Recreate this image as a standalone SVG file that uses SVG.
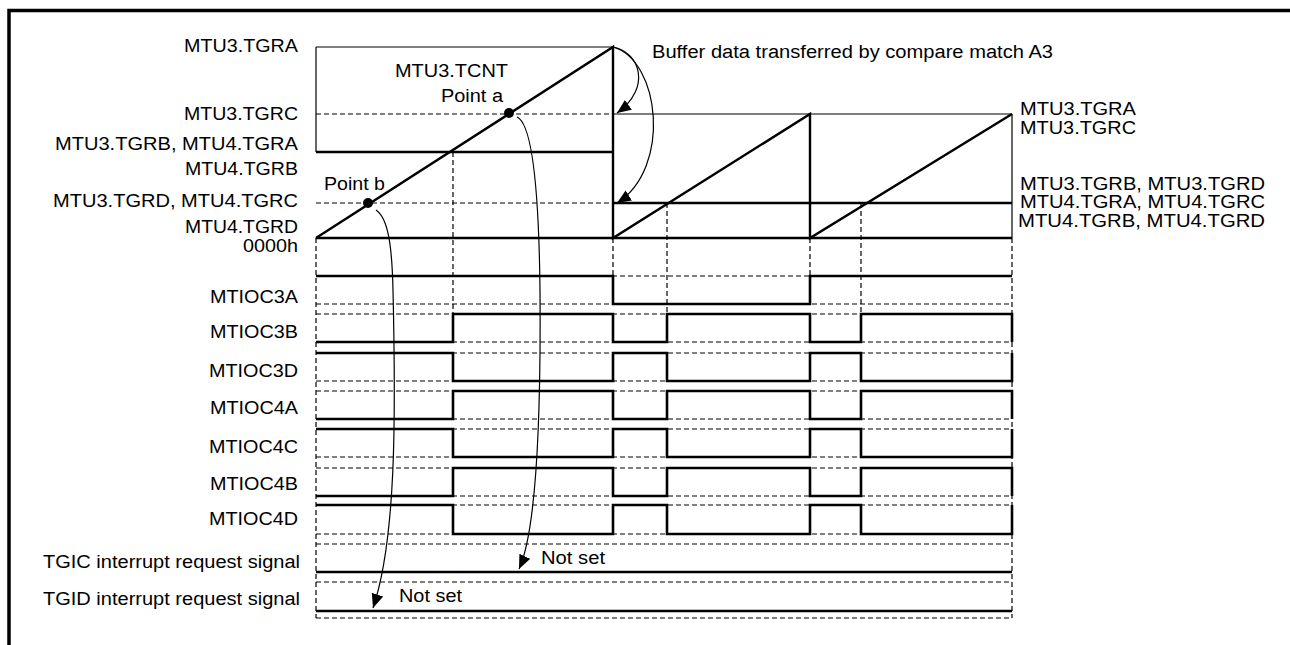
<svg xmlns="http://www.w3.org/2000/svg" width="1290" height="645" viewBox="0 0 1290 645">
<style>
text{font-family:"Liberation Sans",Arial,sans-serif;font-size:18px;fill:#000}
.e{text-anchor:end}
.thin{stroke:#000;stroke-width:1.2;fill:none}
.thick{stroke:#000;stroke-width:2.4;fill:none}
.dash{stroke:#000;stroke-width:1.2;fill:none;stroke-dasharray:5 3}
.wave{stroke:#000;stroke-width:2.6;fill:none;stroke-linejoin:miter}
.conn{stroke:#000;stroke-width:1.2;fill:none}
</style>
<defs>
<marker id="ah" markerUnits="userSpaceOnUse" markerWidth="15" markerHeight="13" refX="14" refY="6" orient="auto" viewBox="0 0 15 13">
<path d="M0,0 L14,6 L0,12 z" fill="#000"/>
</marker>
</defs>
<rect width="1290" height="645" fill="#fff"/>
<g id="frame">
<path d="M9,645 V10.5 H1290" stroke="#000" stroke-width="3.5" fill="none"/>
</g>
<g id="counter-plot">
<line class="thin" x1="316" y1="47" x2="613" y2="47"/>
<line class="thin" x1="316" y1="47" x2="316" y2="152"/>
<line class="dash" x1="316" y1="114" x2="613" y2="114"/>
<line class="thin" x1="613" y1="114" x2="1012" y2="114"/>
<line class="thick" x1="316" y1="152" x2="613" y2="152"/>
<line class="dash" x1="316" y1="203" x2="613" y2="203"/>
<line class="thick" x1="613" y1="203" x2="1012" y2="203"/>
<line class="thick" x1="316" y1="238" x2="1012" y2="238"/>
<path class="thick" d="M316,238 L613,47 V238 L810,114 V238 L1012,114"/>
<line class="thin" x1="1012" y1="114" x2="1012" y2="238"/>
<circle cx="509" cy="113" r="5" fill="#000"/>
<circle cx="368" cy="203" r="5" fill="#000"/>
<text x="395" y="77" textLength="113" lengthAdjust="spacingAndGlyphs">MTU3.TCNT</text>
<text x="441" y="102" textLength="62" lengthAdjust="spacingAndGlyphs">Point a</text>
<text x="324" y="190" textLength="61" lengthAdjust="spacingAndGlyphs">Point b</text>
</g>
<g id="gridlines">
<line class="dash" x1="316" y1="238" x2="316" y2="618"/>
<line class="dash" x1="1012" y1="238" x2="1012" y2="618"/>
<line class="dash" x1="453" y1="152" x2="453" y2="314"/>
<line class="dash" x1="613" y1="238" x2="613" y2="276"/>
<line class="dash" x1="667" y1="203" x2="667" y2="314"/>
<line class="dash" x1="810" y1="238" x2="810" y2="276"/>
<line class="dash" x1="861" y1="203" x2="861" y2="314"/>
</g>
<g id="left-labels">
<text class="e" x="298" y="52" textLength="114" lengthAdjust="spacingAndGlyphs">MTU3.TGRA</text>
<text class="e" x="298" y="120" textLength="114" lengthAdjust="spacingAndGlyphs">MTU3.TGRC</text>
<text class="e" x="298" y="150" textLength="243" lengthAdjust="spacingAndGlyphs">MTU3.TGRB, MTU4.TGRA</text>
<text class="e" x="298" y="175" textLength="113" lengthAdjust="spacingAndGlyphs">MTU4.TGRB</text>
<text class="e" x="298" y="207" textLength="245" lengthAdjust="spacingAndGlyphs">MTU3.TGRD, MTU4.TGRC</text>
<text class="e" x="298" y="233" textLength="113" lengthAdjust="spacingAndGlyphs">MTU4.TGRD</text>
<text class="e" x="298" y="252" textLength="55" lengthAdjust="spacingAndGlyphs">0000h</text>
</g>
<g id="right-labels">
<text x="1020" y="115" textLength="116" lengthAdjust="spacingAndGlyphs">MTU3.TGRA</text>
<text x="1020" y="134" textLength="116" lengthAdjust="spacingAndGlyphs">MTU3.TGRC</text>
<text x="1020" y="190" textLength="245" lengthAdjust="spacingAndGlyphs">MTU3.TGRB, MTU3.TGRD</text>
<text x="1020" y="208" textLength="245" lengthAdjust="spacingAndGlyphs">MTU4.TGRA, MTU4.TGRC</text>
<text x="1018" y="227" textLength="247" lengthAdjust="spacingAndGlyphs">MTU4.TGRB, MTU4.TGRD</text>
<text x="652" y="58" textLength="401" lengthAdjust="spacingAndGlyphs">Buffer data transferred by compare match A3</text>
</g>
<g id="MTIOC3A">
<line class="dash" x1="316" y1="276" x2="1012" y2="276"/>
<line class="dash" x1="316" y1="304" x2="1012" y2="304"/>
<path class="wave" d="M316,276 H613 V304 H810 V276 H1012"/>
<text class="e" x="298" y="303" textLength="88" lengthAdjust="spacingAndGlyphs">MTIOC3A</text>
</g>
<g id="MTIOC3B">
<line class="dash" x1="316" y1="314" x2="1012" y2="314"/>
<line class="dash" x1="316" y1="342" x2="1012" y2="342"/>
<path class="wave" d="M316,342 H453 V314 H613 V342 H667 V314 H810 V342 H861 V314 H1012 V342"/>
<text class="e" x="298" y="338" textLength="88" lengthAdjust="spacingAndGlyphs">MTIOC3B</text>
</g>
<g id="MTIOC3D">
<line class="dash" x1="316" y1="353" x2="1012" y2="353"/>
<line class="dash" x1="316" y1="381" x2="1012" y2="381"/>
<path class="wave" d="M316,353 H453 V381 H613 V353 H667 V381 H810 V353 H861 V381 H1012 V353"/>
<text class="e" x="298" y="377" textLength="89" lengthAdjust="spacingAndGlyphs">MTIOC3D</text>
</g>
<g id="MTIOC4A">
<line class="dash" x1="316" y1="391" x2="1012" y2="391"/>
<line class="dash" x1="316" y1="419" x2="1012" y2="419"/>
<path class="wave" d="M316,419 H453 V391 H613 V419 H667 V391 H810 V419 H861 V391 H1012 V419"/>
<text class="e" x="298" y="414" textLength="88" lengthAdjust="spacingAndGlyphs">MTIOC4A</text>
</g>
<g id="MTIOC4C">
<line class="dash" x1="316" y1="429" x2="1012" y2="429"/>
<line class="dash" x1="316" y1="457" x2="1012" y2="457"/>
<path class="wave" d="M316,429 H453 V457 H613 V429 H667 V457 H810 V429 H861 V457 H1012 V429"/>
<text class="e" x="298" y="453" textLength="89" lengthAdjust="spacingAndGlyphs">MTIOC4C</text>
</g>
<g id="MTIOC4B">
<line class="dash" x1="316" y1="468" x2="1012" y2="468"/>
<line class="dash" x1="316" y1="496" x2="1012" y2="496"/>
<path class="wave" d="M316,496 H453 V468 H613 V496 H667 V468 H810 V496 H861 V468 H1012 V496"/>
<text class="e" x="298" y="490" textLength="88" lengthAdjust="spacingAndGlyphs">MTIOC4B</text>
</g>
<g id="MTIOC4D">
<line class="dash" x1="316" y1="505" x2="1012" y2="505"/>
<line class="dash" x1="316" y1="534" x2="1012" y2="534"/>
<path class="wave" d="M316,505 H453 V534 H613 V505 H667 V534 H810 V505 H861 V534 H1012 V505"/>
<text class="e" x="298" y="525" textLength="89" lengthAdjust="spacingAndGlyphs">MTIOC4D</text>
</g>
<g id="TGIC">
<line class="dash" x1="316" y1="544" x2="1012" y2="544"/>
<line class="wave" x1="316" y1="572" x2="1012" y2="572"/>
<text class="e" x="300" y="568" textLength="257" lengthAdjust="spacingAndGlyphs">TGIC interrupt request signal</text>
<text x="541" y="564" textLength="64" lengthAdjust="spacingAndGlyphs">Not set</text>
</g>
<g id="TGID">
<line class="dash" x1="316" y1="582" x2="1012" y2="582"/>
<line class="wave" x1="316" y1="611" x2="1012" y2="611"/>
<line class="dash" x1="316" y1="618" x2="1012" y2="618"/>
<text class="e" x="300" y="605" textLength="257" lengthAdjust="spacingAndGlyphs">TGID interrupt request signal</text>
<text x="399" y="602" textLength="63" lengthAdjust="spacingAndGlyphs">Not set</text>
</g>
<g id="connectors">
<path class="conn" d="M613,47 C640,52 652,88 617,113" marker-end="url(#ah)"/>
<path class="conn" d="M613,47 C660,60 672,168 617,203" marker-end="url(#ah)"/>
<path class="conn" d="M517,117 C533,124 539,200 540,290 C541,420 537,530 519,569" marker-end="url(#ah)"/>
<path class="conn" d="M376,210 C388,218 392,245 393,290 C396,420 396,540 373,608" marker-end="url(#ah)"/>
</g>
</svg>
